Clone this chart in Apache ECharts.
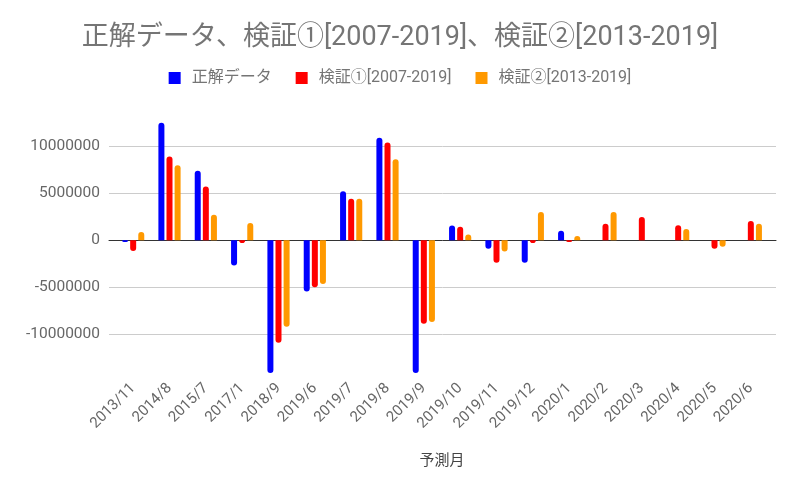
<!DOCTYPE html>
<html><head><meta charset="utf-8">
<script src="https://cdn.jsdelivr.net/npm/echarts@6/dist/echarts.min.js"></script>
<style>html,body{margin:0;padding:0;background:#fff}#c{width:800px;height:495px}</style>
</head><body><div id="c"></div>
<script>
const titleText = '正解データ、検証①[2007-2019]、検証②[2013-2019]';
const xAxisName = '予測月';
const categories = ['2013/11','2014/8','2015/7','2017/1','2018/9','2019/6','2019/7','2019/8','2019/9','2019/10','2019/11','2019/12','2020/1','2020/2','2020/3','2020/4','2020/5','2020/6'];
const seriesNames = ['正解データ','検証①[2007-2019]','検証②[2013-2019]'];
const truth   = [-200000, 12500000, 7400000, -2700000, -14500000, -5450000, 5200000, 10900000, -14500000, 1570000, -900000, -2400000, 1000000, null, null, null, null, null];
const verify1 = [-1150000, 8900000, 5700000, -300000, -10900000, -5000000, 4400000, 10400000, -8900000, 1440000, -2400000, -300000, -200000, 1750000, 2470000, 1600000, -900000, 2040000];
const verify2 = [870000, 7960000, 2700000, 1830000, -9200000, -4660000, 4400000, 8600000, -8700000, 600000, -1200000, 3000000, 450000, 3000000, null, 1200000, -700000, 1750000];
const yMin = -14130000, yMax = 13000000;

const FONT = 'Roboto, "Noto Sans CJK JP", sans-serif';
const colors = ['#0000ff', '#ff0000', '#ff9900'];
const seriesData = [truth, verify1, verify2];

function toItems(arr) {
  return arr.map(v => v === null ? null : {
    value: v,
    itemStyle: { borderRadius: v < 0 ? [0, 0, 3, 3] : [3, 3, 0, 0] }
  });
}

const chart = echarts.init(document.getElementById('c'), null, { renderer: 'canvas' });
chart.setOption({
  animation: false,
  backgroundColor: '#ffffff',
  textStyle: { fontFamily: FONT },
  color: colors,
  title: {
    text: titleText, left: 'center', top: 20,
    textStyle: { fontSize: 27, fontWeight: 'normal', color: '#757575', fontFamily: FONT }
  },
  legend: {
    top: 65, left: 'center', icon: 'rect', itemWidth: 12, itemHeight: 12, itemGap: 24,
    textStyle: { fontSize: 16, color: '#757575', fontFamily: FONT, padding: [0, 0, 0, 6] },
    data: seriesNames
  },
  grid: [
    { left: 109, right: 24, top: 118, height: 255 },
    { left: 115, width: 654, top: 118, height: 255 }
  ],
  xAxis: [
    { gridIndex: 0, type: 'value', min: 0, max: 1,
      axisLine: { show: true, onZero: true, lineStyle: { color: '#333', width: 1 } },
      axisTick: { show: false }, axisLabel: { show: false }, splitLine: { show: false } },
    { gridIndex: 1, type: 'category', data: categories,
      axisLine: { show: false, onZero: false }, axisTick: { show: false },
      axisLabel: { interval: 0, rotate: 45, fontSize: 15, color: '#666', margin: 13, fontFamily: FONT },
      name: xAxisName, nameLocation: 'middle', nameGap: 81,
      nameTextStyle: { fontSize: 15, color: '#444', fontFamily: FONT } }
  ],
  yAxis: [
    { gridIndex: 0, type: 'value', min: yMin, max: yMax,
      axisLine: { show: false }, axisTick: { show: false },
      axisLabel: { fontSize: 15.5, color: '#666', margin: 9, showMinLabel: false, showMaxLabel: false, fontFamily: FONT,
        formatter: v => String(v) },
      splitLine: { show: true, showMinLine: false, showMaxLine: false, lineStyle: { color: '#cccccc', width: 1 } } },
    { gridIndex: 1, type: 'value', min: yMin, max: yMax, show: false,
      splitLine: { show: false } }
  ],
  series: seriesNames.map((name, i) => ({
    name, type: 'bar', xAxisIndex: 1, yAxisIndex: 1,
    data: toItems(seriesData[i]),
    barWidth: 6, barGap: '35%',
    itemStyle: { color: colors[i] }
  }))
});
</script></body></html>
